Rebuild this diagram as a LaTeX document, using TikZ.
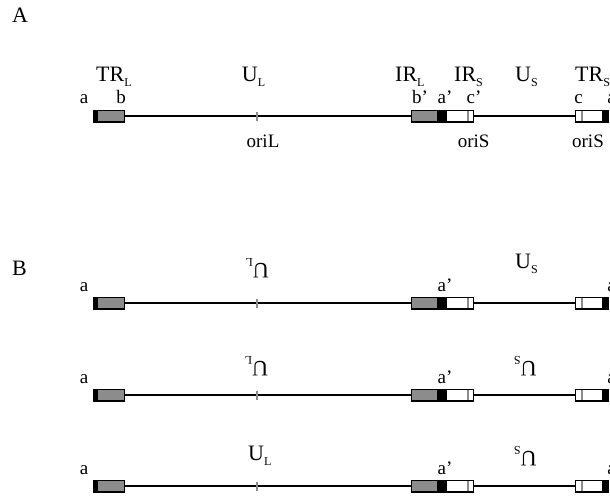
\documentclass[tikz,border=0pt]{standalone}
\usepackage{fontspec}
\setmainfont{Liberation Serif}
% segment name with a lowered small subscript, e.g. U_L
\newcommand\seglabel[2]{#1\raisebox{-5pt}{\fontsize{12}{12}\selectfont #2}}
\begin{document}
\begin{tikzpicture}[x=1pt,y=-1pt,
  strand/.style={line width=2.4pt},
  repgray/.style={fill=black!45},
  boxframe/.style={draw=black, line width=1.5pt, inner sep=0pt, outer sep=0pt, minimum height=11.5pt},
  oritick/.style={fill=black!45, inner sep=0pt, outer sep=0pt, minimum width=2.2pt, minimum height=9pt},
  small/.style={inner sep=0pt, anchor=base, font=\fontsize{19}{19}\selectfont},
  big/.style={inner sep=0pt, anchor=base west, font=\fontsize{22}{22}\selectfont},
  flipped/.style={big, rotate=180},
  panel/.style={inner sep=0pt, anchor=base west, font=\fontsize{22}{22}\selectfont},
  genome/.pic={
    % TR_L: terminal a (black) and b (grey)
    \fill (93.5,-5.75) rectangle (97.5,5.75);
    \fill[repgray] (97.5,-5.75) rectangle (124.5,5.75);
    % IR_L + IR_S: b' (grey), a' (black), c' (white) with oriS
    \fill[repgray] (411.5,-5.75) rectangle (437,5.75);
    \fill (437,-5.75) rectangle (447,5.75);
    \fill[repgray] (466.8,-5.75) rectangle (469,5.75);
    % TR_S: c (white) with oriS, terminal a (black)
    \fill[repgray] (580.5,-5.75) rectangle (582.7,5.75);
    \fill (602,-5.75) rectangle (608.5,5.75);
    % repeat frames
    \node[boxframe, minimum width=31pt] (-trl) at (109,0) {};
    \node[boxframe, minimum width=62pt] (-mid) at (442.5,0) {};
    \node[boxframe, minimum width=33pt] (-trs) at (592,0) {};
    % unique segments
    \draw[strand] (-trl.east) -- (-mid.west);
    \draw[strand] (-mid.east) -- (-trs.west);
    % oriL
    \node[oritick] (-ori) at (257,0) {};
  }
]
\useasboundingbox (0,0) rectangle (610,496);

% ---------------- panel A ----------------
\node[panel] (pA) at (12,22.7) {A};
\pic (gA) at (0,116) {genome};

\node[big] (trL) at (96,81) {\seglabel{TR}{L}};
\node[big] (uL) at (241.7,81) {\seglabel{U}{L}};
\node[big] (irL) at (395,81) {\seglabel{IR}{L}};
\node[big] (irS) at (454,81) {\seglabel{IR}{S}};
\node[big] (uS) at (515,81) {\seglabel{U}{S}};
\node[big] (trS) at (575,81) {\seglabel{TR}{S}};

\node[small] (aA1) at (84,103.3) {a};
\node[small] (bA) at (121,103.3) {b};
\node[small] (bpA) at (420,103.3) {b’};
\node[small] (apA) at (445,103.3) {a’};
\node[small] (cpA) at (474,103.3) {c’};
\node[small] (cA) at (578.5,103.3) {c};
\node[small] (aA2) at (611.5,103.3) {a};

\node[small] (oriL) at (263,147) {oriL};
\node[small] (oriS1) at (473.7,147) {oriS};
\node[small] (oriS2) at (588,147) {oriS};

% ---------------- panel B ----------------
\node[panel] (pB) at (12,275) {B};

% P orientation: U_L inverted, U_S forward
\pic (gB) at (0,303) {genome};
\node[flipped] (uLB) at (269,263) {\seglabel{U}{L}};
\node[big] (uSB) at (515,268) {\seglabel{U}{S}};
\node[small] (aB1) at (84,291) {a};
\node[small] (apB) at (445,291) {a’};
\node[small] (aB2) at (611.5,291) {a};

% both segments inverted
\pic (gC) at (0,395) {genome};
\node[flipped] (uLC) at (268.3,361.7) {\seglabel{U}{L}};
\node[flipped] (uSC) at (536.7,361.7) {\seglabel{U}{S}};
\node[small] (aC1) at (84,383) {a};
\node[small] (apC) at (445,383) {a’};
\node[small] (aC2) at (611.5,383) {a};

% U_L forward, U_S inverted
\pic (gD) at (0,486) {genome};
\node[big] (uLD) at (248,460) {\seglabel{U}{L}};
\node[flipped] (uSD) at (536.7,451.7) {\seglabel{U}{S}};
\node[small] (aD1) at (84,474) {a};
\node[small] (apD) at (445,474) {a’};
\node[small] (aD2) at (611.5,474) {a};
\end{tikzpicture}
\end{document}
